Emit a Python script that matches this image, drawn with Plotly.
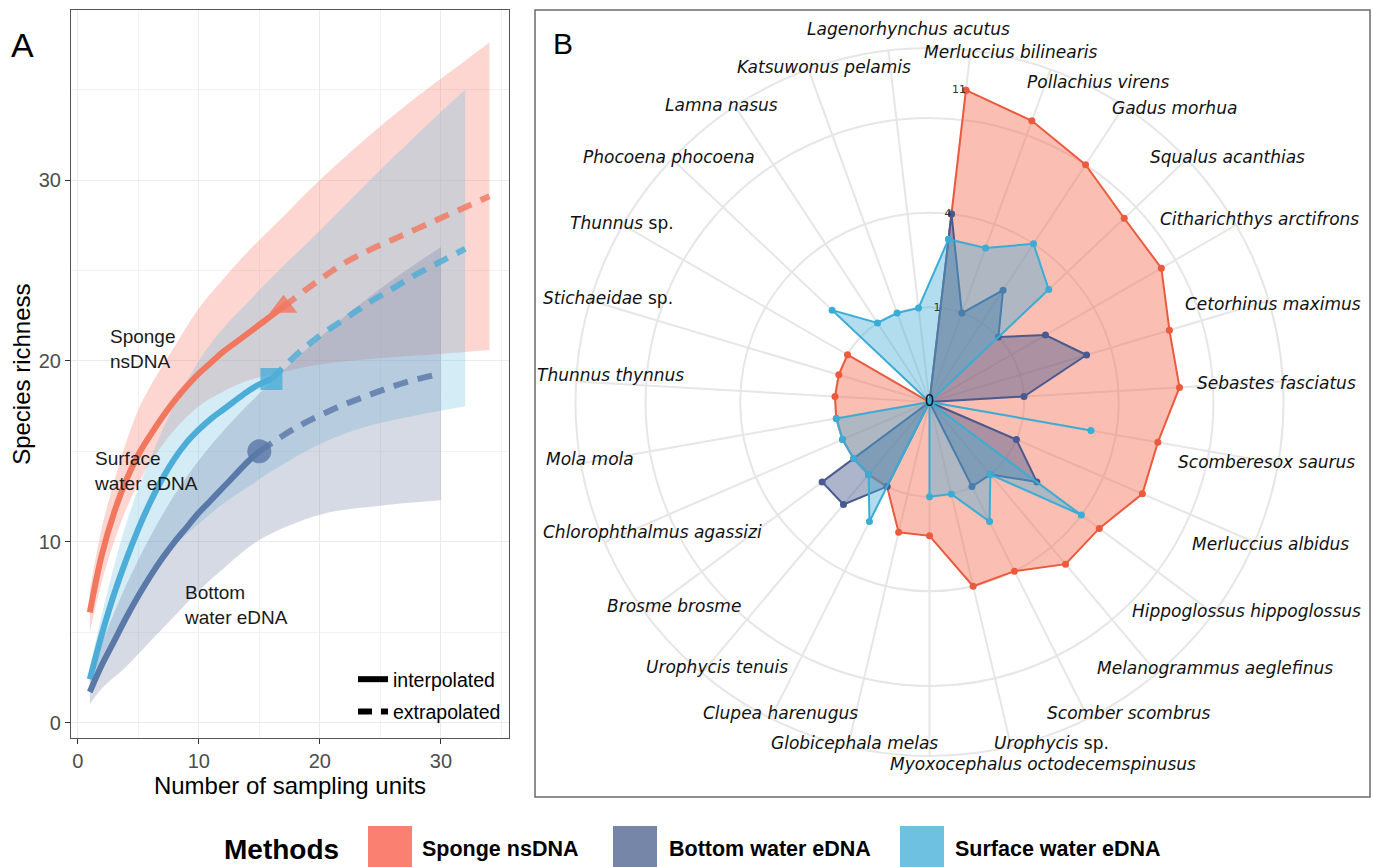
import numpy as np
import plotly.graph_objects as go

W, H = 1373, 867


def px(x):
    return x / W


def py(y):
    return 1 - y / H


# ---------------- Panel A data (rarefaction / extrapolation) ----------------
SP_X_INT = [1, 2, 3, 4, 5, 6, 7, 8, 9, 10, 11, 12, 13, 14, 15, 16, 17]
SP_Y_INT = [6.1, 9.3, 11.6, 13.4, 14.8, 15.9, 16.9, 17.8, 18.6, 19.3, 19.9, 20.5, 21.0, 21.5, 22.0, 22.5, 23.0]
SP_X_EXT = [17, 20, 22, 24, 26, 28, 30, 32, 34]
SP_Y_EXT = [23.0, 24.5, 25.4, 26.1, 26.7, 27.3, 27.9, 28.5, 29.1]
SP_X_BAND = [1, 2, 3, 4, 5, 6, 8, 10, 12, 14, 17, 20, 24, 28, 32, 34]
SP_UP = [7.3, 10.8, 13.3, 15.5, 17.3, 18.6, 20.8, 22.9, 24.5, 26.0, 28.0, 30.0, 32.4, 34.6, 36.6, 37.6]
SP_LO = [5.0, 7.8, 10.0, 11.8, 13.2, 14.4, 16.2, 17.5, 18.3, 18.9, 19.4, 19.8, 20.1, 20.3, 20.5, 20.6]

SF_X_INT = [1, 2, 3, 4, 5, 6, 7, 8, 9, 10, 11, 12, 13, 14, 15, 16]
SF_Y_INT = [2.4, 4.9, 7.1, 9.0, 10.7, 12.2, 13.5, 14.6, 15.5, 16.2, 16.8, 17.3, 17.8, 18.3, 18.7, 19.0]
SF_X_EXT = [16, 18, 20, 22, 24, 26, 28, 30, 32]
SF_Y_EXT = [19.0, 20.3, 21.4, 22.3, 23.2, 24.0, 24.8, 25.5, 26.2]
SF_X_BAND = [1, 2, 4, 6, 8, 10, 12, 14, 16, 20, 24, 28, 32]
SF_UP = [3.0, 6.0, 11.0, 14.6, 17.6, 20.0, 21.8, 23.2, 24.6, 27.2, 29.9, 32.5, 35.0]
SF_LO = [1.8, 3.4, 6.0, 8.2, 9.8, 11.0, 12.1, 13.0, 13.9, 15.4, 16.4, 17.0, 17.5]

BW_X_INT = [1, 2, 3, 4, 5, 6, 7, 8, 9, 10, 11, 12, 13, 14, 15]
BW_Y_INT = [1.7, 3.2, 4.5, 5.8, 7.0, 8.1, 9.1, 10.0, 10.8, 11.6, 12.3, 13.0, 13.7, 14.4, 15.0]
BW_X_EXT = [15, 18, 21, 24, 27, 30]
BW_Y_EXT = [15.0, 16.3, 17.3, 18.1, 18.8, 19.3]
BW_X_BAND = [1, 2, 4, 6, 8, 10, 12, 15, 20, 25, 30]
BW_UP = [2.5, 4.4, 7.6, 10.3, 12.6, 14.5, 16.1, 18.2, 21.3, 24.0, 26.3]
BW_LO = [1.0, 1.9, 3.1, 4.5, 5.9, 7.3, 8.5, 10.1, 11.5, 12.0, 12.3]

X_TICKS = [0, 10, 20, 30]
Y_TICKS = [0, 10, 20, 30]

# ---------------- Panel B data (species detections, radar) ----------------
SPECIES = [
    "Merluccius bilinearis", "Pollachius virens", "Gadus morhua", "Squalus acanthias",
    "Citharichthys arctifrons", "Cetorhinus maximus", "Sebastes fasciatus",
    "Scomberesox saurus", "Merluccius albidus", "Hippoglossus hippoglossus",
    "Melanogrammus aeglefinus", "Scomber scombrus", "Urophycis sp.",
    "Myoxocephalus octodecemspinusus", "Globicephala melas", "Clupea harenugus",
    "Urophycis tenuis", "Brosme brosme", "Chlorophthalmus agassizi", "Mola mola",
    "Thunnus thynnus", "Stichaeidae sp.", "Thunnus sp.", "Phocoena phocoena",
    "Lamna nasus", "Katsuwonus pelamis", "Lagenorhynchus acutus",
]
SPONGE = [11, 10, 9, 8, 8, 7, 7, 6, 6, 5, 5, 4, 4, 2, 2, 1, 1, 1, 1, 1, 1, 1, 1, 0, 0, 0, 0]
BOTTOM = [4, 1, 2, 1, 2, 3, 1, 0, 1, 2, 1, 1, 0, 0, 0, 1, 2, 2, 0, 0, 0, 0, 0, 0, 0, 0, 0]
SURFACE = [3, 3, 4, 3, 0, 0, 0, 3, 0, 4, 1, 2, 1, 1, 0, 2, 1, 1, 1, 1, 0, 0, 0, 2, 1, 1, 1]
R_TICKS = [0, 1, 4, 11]

METHODS = ["Sponge nsDNA", "Bottom water eDNA", "Surface water eDNA"]

# ---------------- styles / layout helpers ----------------
SP_LINE, SF_LINE, BW_LINE = "#F2775F", "#4BADD8", "#5A78A8"
SP_FILL, SF_FILL, BW_FILL = "rgba(250,128,114,0.32)", "rgba(110,193,224,0.30)", "rgba(118,134,169,0.30)"
LEG_COL = ["#FA8072", "#7686A9", "#6EC1E0"]

R_SP_LINE, R_BW_LINE, R_SF_LINE = "#EC5A3E", "#4A5A8E", "#3AADD6"
R_SP_FILL, R_BW_FILL, R_SF_FILL = "rgba(246,110,86,0.45)", "rgba(74,90,142,0.45)", "rgba(70,175,215,0.42)"

# label positions (pixel centres) for the radar species names
LABEL_XY = {
    "Lagenorhynchus acutus": (909, 29), "Merluccius bilinearis": (1010, 52),
    "Pollachius virens": (1098, 82), "Gadus morhua": (1174, 108),
    "Squalus acanthias": (1227, 157), "Citharichthys arctifrons": (1259, 219),
    "Cetorhinus maximus": (1273, 304), "Sebastes fasciatus": (1276, 383),
    "Scomberesox saurus": (1266, 462), "Merluccius albidus": (1270, 544),
    "Hippoglossus hippoglossus": (1246, 611), "Melanogrammus aeglefinus": (1215, 668),
    "Scomber scombrus": (1128, 713), "Urophycis sp.": (1051, 743),
    "Myoxocephalus octodecemspinusus": (1043, 764), "Globicephala melas": (854, 743),
    "Clupea harenugus": (780, 713), "Urophycis tenuis": (717, 667),
    "Brosme brosme": (674, 606), "Chlorophthalmus agassizi": (652, 532),
    "Mola mola": (590, 459), "Thunnus thynnus": (610, 375),
    "Stichaeidae sp.": (608, 298), "Thunnus sp.": (622, 223),
    "Phocoena phocoena": (669, 157), "Lamna nasus": (721, 105),
    "Katsuwonus pelamis": (824, 67),
}

fig = go.Figure()


def band(xs, lo, up, color):
    fig.add_trace(go.Scatter(
        x=xs, y=lo, mode="lines", line=dict(width=0, shape="spline"),
        hoverinfo="skip", showlegend=False))
    fig.add_trace(go.Scatter(
        x=xs, y=up, mode="lines", line=dict(width=0, shape="spline"),
        fill="tonexty", fillcolor=color, hoverinfo="skip", showlegend=False))


band(SP_X_BAND, SP_LO, SP_UP, SP_FILL)
band(SF_X_BAND, SF_LO, SF_UP, SF_FILL)
band(BW_X_BAND, BW_LO, BW_UP, BW_FILL)

for xi, yi, xe, ye, col, sym in [
    (SP_X_INT, SP_Y_INT, SP_X_EXT, SP_Y_EXT, SP_LINE, "triangle-up"),
    (SF_X_INT, SF_Y_INT, SF_X_EXT, SF_Y_EXT, SF_LINE, "square"),
    (BW_X_INT, BW_Y_INT, BW_X_EXT, BW_Y_EXT, BW_LINE, "circle"),
]:
    fig.add_trace(go.Scatter(x=xe, y=ye, mode="lines", opacity=0.8,
                             line=dict(color=col, width=6, dash="15px,10px", shape="spline"),
                             showlegend=False, hoverinfo="skip"))
    fig.add_trace(go.Scatter(x=xi, y=yi, mode="lines",
                             line=dict(color=col, width=6, shape="spline", smoothing=1.0),
                             showlegend=False, hoverinfo="skip"))
    fig.add_trace(go.Scatter(x=[xi[-1]], y=[yi[-1]], mode="markers", opacity=0.8,
                             marker=dict(symbol=sym, size=24 if sym != "square" else 22, color=col),
                             showlegend=False, hoverinfo="skip"))

# legend entries for line type
fig.add_trace(go.Scatter(x=[None], y=[None], mode="lines", name="interpolated",
                         line=dict(color="black", width=6), legendgroup="a"))
fig.add_trace(go.Scatter(x=[None], y=[None], mode="lines", name="extrapolated",
                         line=dict(color="black", width=6, dash="14px,9px"), legendgroup="b"))

# ---------------- Panel B radar ----------------
for vals, name, lc, fc in [
    (SPONGE, METHODS[0], R_SP_LINE, R_SP_FILL),
    (BOTTOM, METHODS[1], R_BW_LINE, R_BW_FILL),
    (SURFACE, METHODS[2], R_SF_LINE, R_SF_FILL),
]:
    v = list(vals) + [vals[0]]
    fig.add_trace(go.Scatterpolar(
        r=np.sqrt(v), theta=SPECIES + [SPECIES[0]], mode="lines+markers",
        fill="toself", fillcolor=fc, line=dict(color=lc, width=2),
        marker=dict(color=lc, size=7), name=name, showlegend=False, subplot="polar"))

fig.add_trace(go.Scatterpolar(
    r=np.sqrt(R_TICKS[1:]), theta=[SPECIES[0]] * 3, mode="text",
    text=[str(t) for t in R_TICKS[1:]], textposition="middle left",
    textfont=dict(size=11, color="#333333", family="DejaVu Sans"),
    showlegend=False, subplot="polar"))
fig.add_trace(go.Scatterpolar(
    r=[np.sqrt(R_TICKS[0])], theta=[SPECIES[0]], mode="text",
    text=[str(R_TICKS[0])], textposition="middle center",
    textfont=dict(size=15, color="#111111", family="DejaVu Sans"),
    showlegend=False, subplot="polar"))

# ---------------- layout ----------------
CX, CY, RAD = 929.5, 402, 354
ann = []
for sp in SPECIES:
    cx, cy = LABEL_XY[sp]
    if sp.endswith(" sp."):
        txt = "<i>" + sp[:-4] + "</i> sp."
    else:
        txt = "<i>" + sp + "</i>"
    ann.append(dict(x=px(cx), y=py(cy), xref="paper", yref="paper", text=txt,
                    showarrow=False, xanchor="center", yanchor="middle",
                    font=dict(family="DejaVu Sans", size=17, color="#111111")))

for txt, xx, yy in [("Sponge<br>nsDNA", 2.53, 20.66),
                    ("Surface<br>water eDNA", 1.18, 13.9),
                    ("Bottom<br>water eDNA", 8.59, 6.48)]:
    ann.append(dict(x=xx, y=yy, xref="x", yref="y", text=txt, showarrow=False,
                    xanchor="left", yanchor="middle", align="left",
                    font=dict(family="Liberation Sans", size=19, color="#1a1a1a")))

ann.append(dict(x=px(22.5), y=py(45), xref="paper", yref="paper", text="A", showarrow=False,
                xanchor="center", yanchor="middle", font=dict(family="Liberation Sans", size=34, color="black")))
ann.append(dict(x=px(562.5), y=py(43), xref="paper", yref="paper", text="B", showarrow=False,
                xanchor="center", yanchor="middle", font=dict(family="Liberation Sans", size=30, color="black")))

# bottom "Methods" legend
ann.append(dict(x=px(281), y=py(849), xref="paper", yref="paper", text="<b>Methods</b>",
                showarrow=False, xanchor="center", yanchor="middle",
                font=dict(family="Liberation Sans", size=28, color="black")))
shapes = []
for name, col, sx, tx in zip(METHODS, LEG_COL, [368, 613, 900], [420, 667, 953]):
    shapes.append(dict(type="rect", xref="paper", yref="paper", x0=px(sx), x1=px(sx + 44),
                       y0=py(867), y1=py(826), fillcolor=col, line=dict(width=0)))
    ann.append(dict(x=px(tx), y=py(849), xref="paper", yref="paper", text="<b>" + name + "</b>",
                    showarrow=False, xanchor="left", yanchor="middle",
                    font=dict(family="Liberation Sans", size=21.5, color="black")))

shapes.append(dict(type="rect", xref="paper", yref="paper", x0=px(535), x1=px(1370),
                   y0=py(797), y1=py(10), line=dict(color="#6b6b6b", width=1.5)))

fig.update_layout(
    width=W, height=H, margin=dict(l=0, r=0, t=0, b=0),
    paper_bgcolor="white", plot_bgcolor="white",
    font=dict(family="Liberation Sans", color="black"),
    xaxis=dict(domain=[px(71), px(509)], range=[-0.553, 35.62], tickvals=X_TICKS,
               ticks="outside", ticklen=5, tickcolor="#333333", tickwidth=1.2,
               tickfont=dict(size=20, color="#4D4D4D"),
               showgrid=True, gridcolor="#EBEBEB", gridwidth=1.3,
               minor=dict(dtick=5, showgrid=True, gridcolor="#F2F2F2", gridwidth=1),
               zeroline=False, showline=True, mirror=True, linecolor="#555555", linewidth=1.2,
               title=dict(text="Number of sampling units", font=dict(size=24, color="black"), standoff=2)),
    yaxis=dict(domain=[py(738.3), py(10)], range=[-0.862, 39.4], tickvals=Y_TICKS,
               ticks="outside", ticklen=5, tickcolor="#333333", tickwidth=1.2,
               tickfont=dict(size=20, color="#4D4D4D"),
               showgrid=True, gridcolor="#EBEBEB", gridwidth=1.3,
               minor=dict(dtick=5, showgrid=True, gridcolor="#F2F2F2", gridwidth=1),
               zeroline=False, showline=True, mirror=True, linecolor="#555555", linewidth=1.2,
               title=dict(text="Species richness", font=dict(size=24, color="black"), standoff=1)),
    polar=dict(
        domain=dict(x=[px(CX - RAD), px(CX + RAD)], y=[py(CY + RAD), py(CY - RAD)]),
        bgcolor="rgba(0,0,0,0)",
        radialaxis=dict(range=[0, 3.74], tickvals=[1, 2, 3], showticklabels=False, ticks="",
                        showline=False, gridcolor="#E6E6E6", gridwidth=2),
        angularaxis=dict(type="category", categoryarray=SPECIES, rotation=90 - 360 / 27 / 2,
                         direction="clockwise", showticklabels=False, ticks="",
                         gridcolor="#E6E6E6", gridwidth=2, showline=True,
                         linecolor="#E6E6E6", linewidth=2),
    ),
    showlegend=True,
    legend=dict(x=px(353), y=py(660), xanchor="left", yanchor="top",
                bgcolor="rgba(0,0,0,0)", font=dict(size=19.5, color="black"),
                tracegroupgap=4, traceorder="grouped"),
    annotations=ann, shapes=shapes,
)

fig.write_html("out.html", config={"displayModeBar": False},
               post_script="document.body.style.margin='0px';document.body.style.overflow='hidden';")
